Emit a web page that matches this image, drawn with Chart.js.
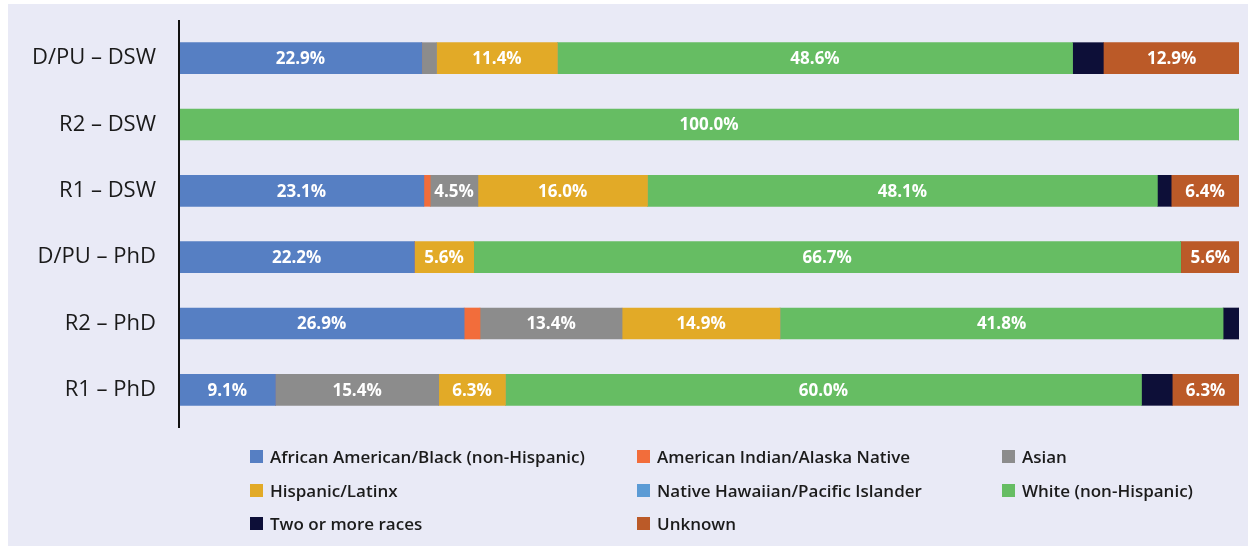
<!DOCTYPE html>
<html>
<head>
<meta charset="utf-8">
<script src="https://cdn.jsdelivr.net/npm/chart.js@4.4.1/dist/chart.umd.min.js"></script>
<style>
  html, body { margin: 0; padding: 0; background: #fff; }
  #wrap { position: relative; width: 1248px; height: 546px; overflow: hidden; }
  #panel { position: absolute; left: 8px; top: 4px; right: 0; bottom: 0; background: #e9eaf6; }
  #chart { position: absolute; left: 0; top: 0; }
  #legend { position: absolute; left: 0; top: 0; width: 1248px; height: 546px;
            font-family: "Open Sans", sans-serif; font-weight: 600; font-size: 17px; color: #1b1b1b; }
  .item { position: absolute; display: flex; align-items: center; white-space: nowrap; height: 20px; }
  .box { width: 13px; height: 13px; margin-right: 7px; }
</style>
</head>
<body>
<div id="wrap">
  <div id="panel"></div>
  <canvas id="chart" width="1248" height="546"></canvas>
  <div id="legend"></div>
</div>
<script>
// categories and series (percent of each row)
const categories = ["D/PU – DSW", "R2 – DSW", "R1 – DSW", "D/PU – PhD", "R2 – PhD", "R1 – PhD"];

const seriesNames = [
  "African American/Black (non-Hispanic)",
  "American Indian/Alaska Native",
  "Asian",
  "Hispanic/Latinx",
  "Native Hawaiian/Pacific Islander",
  "White (non-Hispanic)",
  "Two or more races",
  "Unknown"
];
const seriesColors = ["#567fc3", "#f26d3b", "#8c8c8c", "#e2aa27", "#5b9bd5", "#66bd63", "#0d0f38", "#bb5a28"];

const africanAmerican = [22.9, 0, 23.1, 22.2, 26.9, 9.1];
const americanIndian  = [0, 0, 0.6, 0, 1.5, 0];
const asian           = [1.4, 0, 4.5, 0, 13.4, 15.4];
const hispanic        = [11.4, 0, 16.0, 5.6, 14.9, 6.3];
const nativeHawaiian  = [0, 0, 0, 0, 0, 0];
const white           = [48.6, 100.0, 48.1, 66.7, 41.8, 60.0];
const twoOrMore       = [2.9, 0, 1.3, 0, 1.5, 2.9];
const unknown         = [12.9, 0, 6.4, 5.6, 0, 6.3];

const seriesValues = [africanAmerican, americanIndian, asian, hispanic, nativeHawaiian, white, twoOrMore, unknown];

const legendCols = [250, 637, 1002];
const legendRows = [456, 490, 523];

// white percent labels in the middle of big enough segments
const segmentLabels = {
  id: "segmentLabels",
  afterDatasetsDraw(chart) {
    const ctx = chart.ctx;
    ctx.save();
    ctx.font = "700 17px 'Open Sans', sans-serif";
    ctx.fillStyle = "#ffffff";
    ctx.textAlign = "center";
    ctx.textBaseline = "middle";
    chart.data.datasets.forEach((ds, i) => {
      const meta = chart.getDatasetMeta(i);
      meta.data.forEach((bar, j) => {
        const v = ds.data[j];
        if (v < 4) return;
        const p = bar.getCenterPoint();
        ctx.fillText(v.toFixed(1) + "%", p.x, p.y + 1);
      });
    });
    ctx.restore();
  }
};

// vertical axis line, a bit longer than the plot area
const axisLine = {
  id: "axisLine",
  afterDraw(chart) {
    const { ctx, chartArea } = chart;
    ctx.save();
    ctx.strokeStyle = "#111";
    ctx.lineWidth = 2;
    ctx.beginPath();
    ctx.moveTo(chartArea.left, chartArea.top - 5);
    ctx.lineTo(chartArea.left, chartArea.bottom + 5);
    ctx.stroke();
    ctx.restore();
  }
};

const ctx = document.getElementById("chart").getContext("2d");

new Chart(ctx, {
  type: "bar",
  data: {
    labels: categories,
    datasets: seriesNames.map((name, i) => ({
      label: name,
      data: seriesValues[i],
      backgroundColor: seriesColors[i],
      borderWidth: 0,
      barThickness: 31
    }))
  },
  options: {
    indexAxis: "y",
    responsive: false,
    animation: false,
    layout: { padding: { top: 25, right: 9, bottom: 123, left: 0 } },
    plugins: {
      legend: { display: false },
      tooltip: { enabled: false }
    },
    scales: {
      x: { stacked: true, min: 0, max: 100, display: false },
      y: {
        stacked: true,
        grid: { display: false, drawTicks: false },
        border: { display: false },
        ticks: {
          padding: 23,
          color: "#1a1a1a",
          font: { family: "'Open Sans', sans-serif", size: 22 }
        },
        afterFit(scale) {
          scale.width = 179;
          scale.paddingTop = 0;
          scale.paddingBottom = 0;
        }
      }
    }
  },
  plugins: [segmentLabels, axisLine]
});

// legend in three columns
const legend = document.getElementById("legend");
seriesNames.forEach((name, i) => {
  const item = document.createElement("div");
  item.className = "item";
  item.style.left = legendCols[i % 3] + "px";
  item.style.top = (legendRows[Math.floor(i / 3)] - 10) + "px";
  item.innerHTML = '<span class="box" style="background:' + seriesColors[i] + '"></span>' + name;
  legend.appendChild(item);
});
</script>
</body>
</html>
